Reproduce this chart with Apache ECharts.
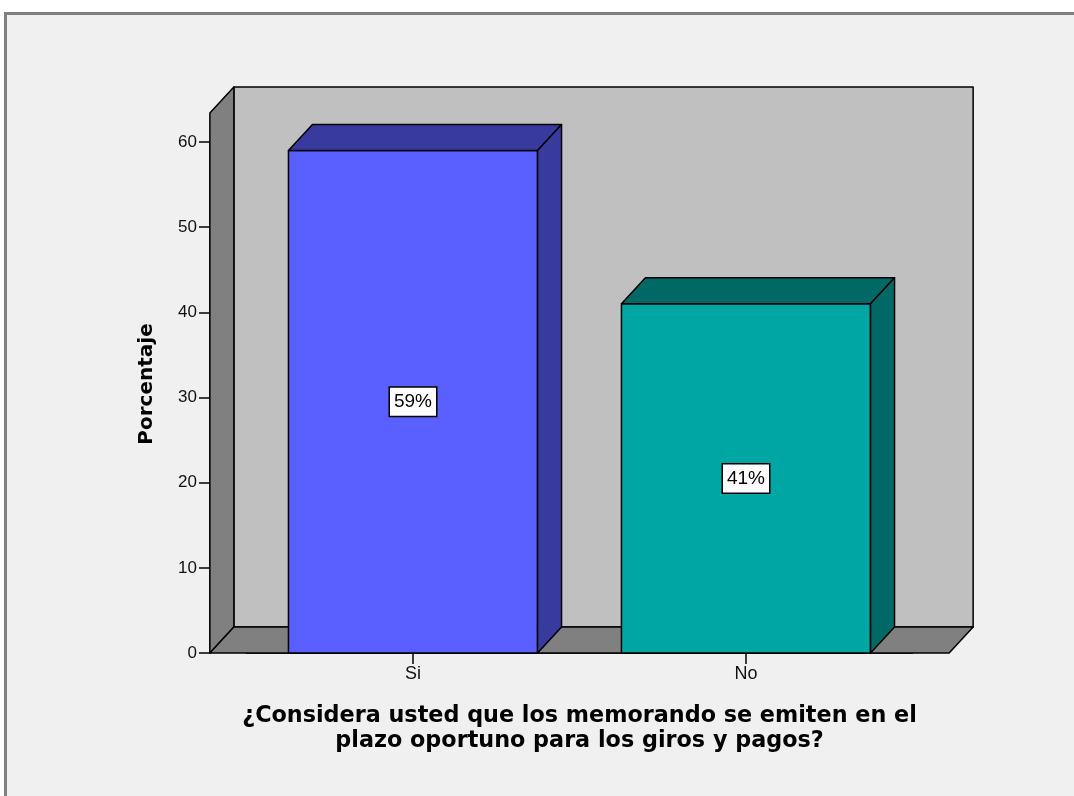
<!DOCTYPE html>
<html><head><meta charset="utf-8">
<script src="https://cdn.jsdelivr.net/npm/echarts@6/dist/echarts.min.js"></script>
<style>html,body{margin:0;padding:0;background:#fff;}#c{width:1074px;height:796px;}</style>
</head><body><div id="c"></div>
<script>
// ---- data ----
const categories = ['Si', 'No'];
const percentages = [59, 41];
const valueLabels = ['59%', '41%'];
const yTicks = [0, 10, 20, 30, 40, 50, 60];
const xTitle = '¿Considera usted que los memorando se emiten en el\nplazo oportuno para los giros y pagos?';
const yTitle = 'Porcentaje';

// ---- style ----
const frontColors = ['#5a5fff', '#00a6a3'];
const sideColors = ['#383a9e', '#006865'];
const DX = 24, DY = -26;          // 3D depth offset (px)
const WALL_TOP = 63.4;            // wall height in data units
const FLOOR_LEFT = -0.61, FLOOR_RIGHT = 1.61;
const HALF_BAR = 0.374;

const chart = echarts.init(document.getElementById('c'), null, {renderer: 'canvas'});

function poly(points, fill) {
  return {type: 'polygon', shape: {points: points}, style: {fill: fill, stroke: '#000', lineWidth: 1.5, lineJoin: 'round'}};
}
function sh(p) { return [p[0] + DX, p[1] + DY]; }

function renderWalls(params, api) {
  const fl0 = api.coord([FLOOR_LEFT, 0]);
  const fr0 = api.coord([FLOOR_RIGHT, 0]);
  const flT = api.coord([FLOOR_LEFT, WALL_TOP]);
  const frT = api.coord([FLOOR_RIGHT, WALL_TOP]);
  return {
    type: 'group',
    children: [
      poly([sh(fl0), sh(flT), sh(frT), sh(fr0)], '#c0c0c0'),
      poly([fl0, flT, sh(flT), sh(fl0)], '#808080'),
      poly([fl0, fr0, sh(fr0), sh(fl0)], '#808080')
    ]
  };
}

function renderBar(params, api) {
  const i = params.dataIndex;
  const x = api.value(0), v = api.value(1);
  const bl = api.coord([x - HALF_BAR, 0]), br = api.coord([x + HALF_BAR, 0]);
  const tl = api.coord([x - HALF_BAR, v]), tr = api.coord([x + HALF_BAR, v]);
  const c = api.coord([x, v / 2]);
  return {
    type: 'group',
    children: [
      poly([bl, tl, tr, br], frontColors[i]),
      poly([tl, sh(tl), sh(tr), tr], sideColors[i]),
      poly([br, tr, sh(tr), sh(br)], sideColors[i]),
      {type: 'text', x: c[0], y: c[1], z2: 10,
       style: {text: valueLabels[i], fill: '#000', font: '19px "Liberation Sans"', align: 'center', verticalAlign: 'middle',
               backgroundColor: '#fff', borderColor: '#000', borderWidth: 1.5, padding: [5, 4, 4, 4]}}
    ]
  };
}

const option = {
  animation: false,
  backgroundColor: 'transparent',
  graphic: [
    {type: 'rect', z: -10, silent: true, shape: {x: 5.5, y: 13.5, width: 1100, height: 800},
     style: {fill: '#f0f0f0', stroke: '#808080', lineWidth: 3}},
    {type: 'text', x: 147, y: 384, rotation: Math.PI / 2, silent: true,
     style: {text: yTitle, font: 'bold 20px "DejaVu Sans"', fill: '#000', align: 'center', verticalAlign: 'middle'}}
  ],
  grid: {left: 246.5, right: 161.5, top: 142, bottom: 143},
  xAxis: [
    {type: 'category', data: categories,
     axisLine: {show: true, onZero: false, lineStyle: {color: '#000', width: 1.5}},
     axisTick: {show: true, alignWithLabel: true, length: 11, lineStyle: {color: '#000', width: 1.5}},
     axisLabel: {color: '#111', fontFamily: 'Liberation Sans', fontSize: 18, margin: 12},
     name: xTitle, nameLocation: 'middle', nameGap: 51,
     nameTextStyle: {color: '#000', fontFamily: 'DejaVu Sans', fontWeight: 'bold', fontSize: 22.3, lineHeight: 25}},
    {type: 'value', min: -0.5, max: 1.5, show: false}
  ],
  yAxis: {
    type: 'value', min: yTicks[0], max: yTicks[yTicks.length - 1], interval: 10, offset: 36.5,
    axisLine: {show: true, onZero: false, lineStyle: {color: '#000', width: 1.5}}, splitLine: {show: false},
    axisTick: {show: true, length: 11, lineStyle: {color: '#000', width: 1.5}},
    axisLabel: {color: '#111', fontFamily: 'Liberation Sans', fontSize: 17, margin: 13}
  },
  series: [
    {type: 'custom', xAxisIndex: 1, yAxisIndex: 0, z: 1, silent: true, clip: false,
     renderItem: renderWalls, data: [[0, 0]]},
    {type: 'custom', xAxisIndex: 1, yAxisIndex: 0, z: 2, silent: true, clip: false,
     renderItem: renderBar, data: percentages.map((v, i) => [i, v])}
  ]
};
chart.setOption(option);
</script></body></html>
